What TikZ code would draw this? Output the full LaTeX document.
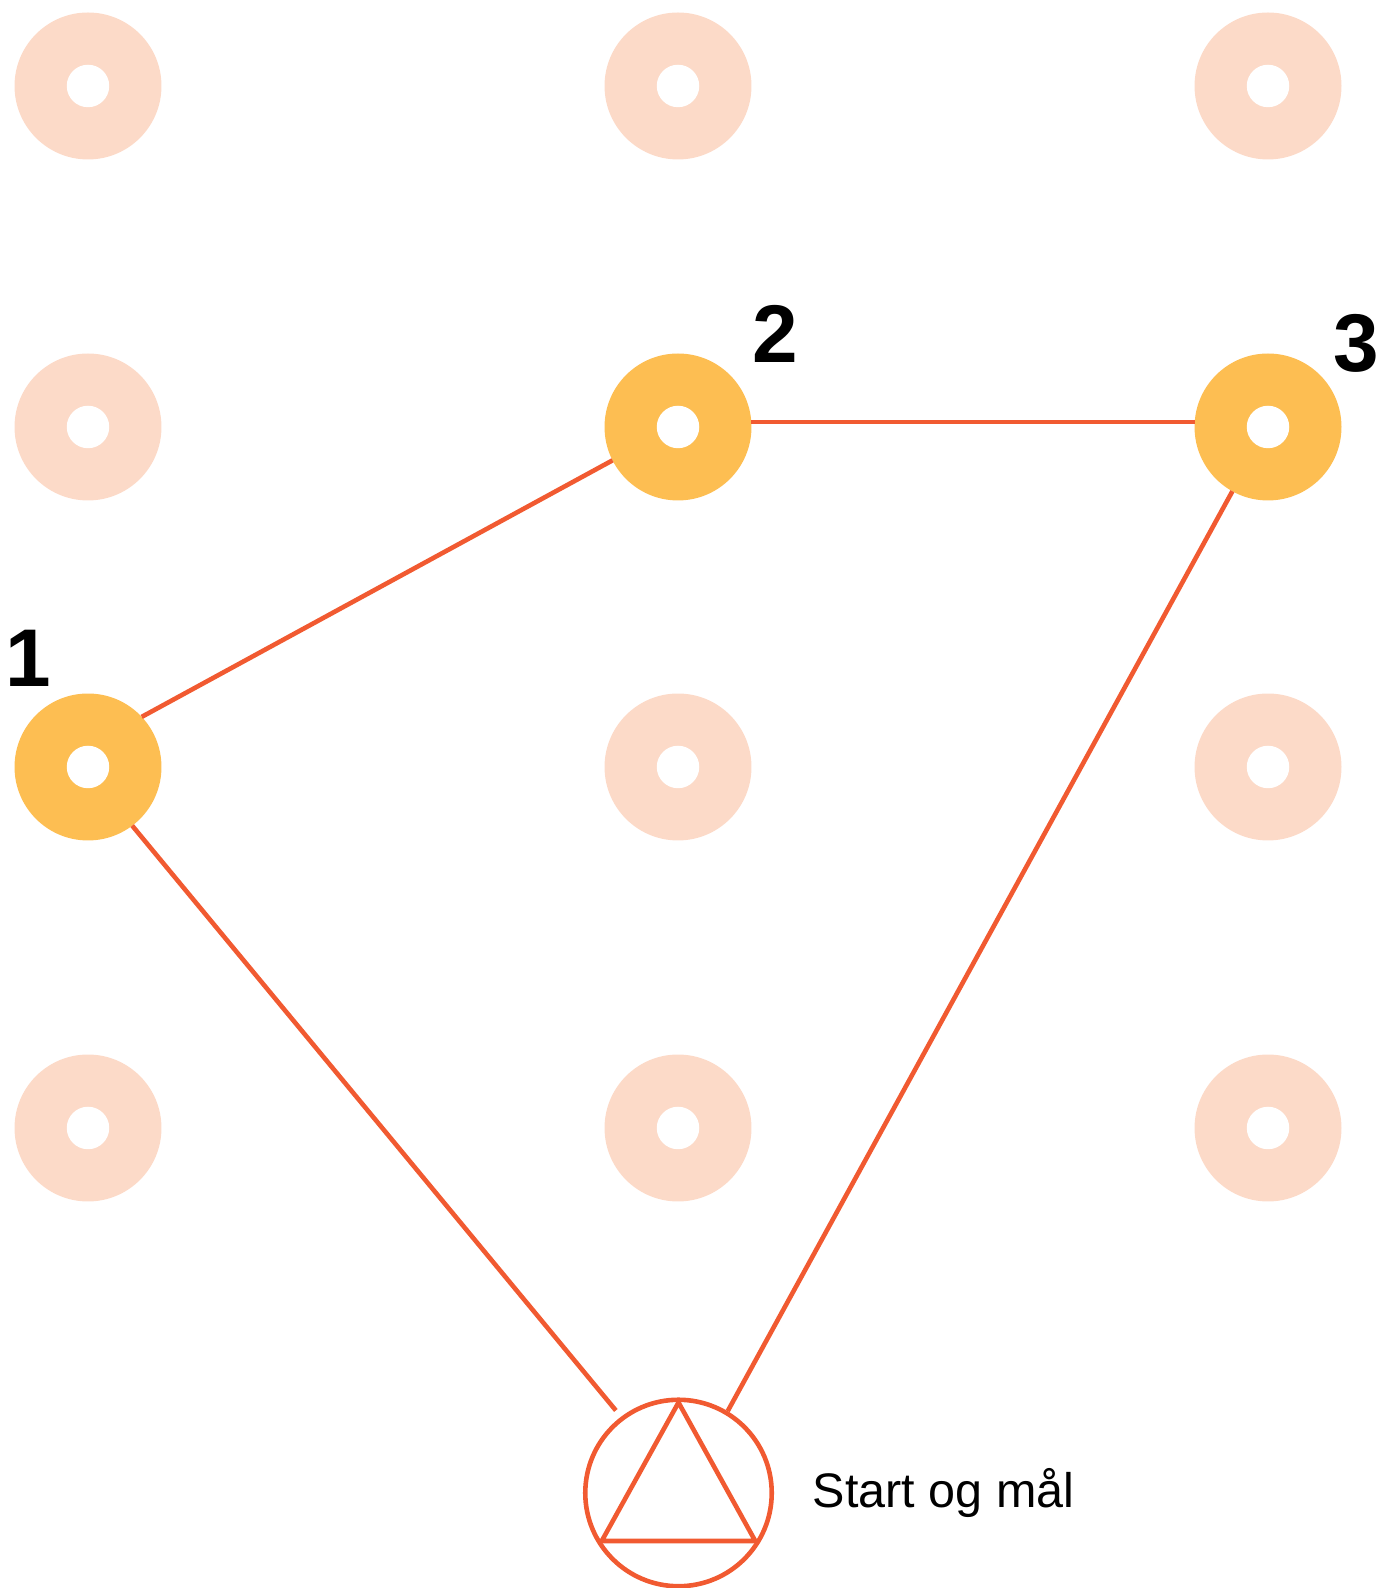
\documentclass[tikz,border=0pt]{standalone}
\usepackage{fontspec}
\setmainfont{Liberation Sans}
\usetikzlibrary{positioning, calc}

\definecolor{peach}{HTML}{FCDAC8}
\definecolor{gold}{HTML}{FDBE52}
\definecolor{route}{HTML}{F15A31}

\begin{document}
\begin{tikzpicture}[x=0.02cm, y=0.02cm, line width=0.092cm,
  ring/.style={circle, fill=#1, minimum size=2.94cm, inner sep=0pt, outer sep=0pt},
  hole/.style={circle, fill=white, minimum size=0.85cm, inner sep=0pt},
  numlbl/.style={anchor=south, inner sep=0pt, font=\fontsize{46.6}{46.6}\selectfont\bfseries},
  leg/.style={route, line cap=butt}]

\useasboundingbox (0,0) rectangle (1376,1588);

% Unused posts
\foreach \x/\y in {88/1502, 678/1502, 1268/1502,
                   88/1161,
                   678/821, 1268/821,
                   88/460, 678/460, 1268/460}
  \node[ring=peach] at (\x,\y) {};

% Posts on the route
\node[ring=gold] (n1) at (88,821) {};
\node[ring=gold] (n2) at (678,1161) {};
\node[ring=gold] (n3) at (1268,1161) {};

% Holes
\foreach \x/\y in {88/1502, 678/1502, 1268/1502,
                   88/1161, 678/1161, 1268/1161,
                   88/821, 678/821, 1268/821,
                   88/460, 678/460, 1268/460}
  \node[hole] at (\x,\y) {};

% Start and finish
\node[circle, draw=route, minimum size=3.73cm, inner sep=0pt] (start) at (678.5,95) {};
\draw[route, line join=miter] ($(start.center)+(90:90.5)$) -- ($(start.center)+(212:90.5)$)
  -- ($(start.center)+(328:90.5)$) -- cycle;
\node[right=0.73cm of start, inner sep=0pt, font=\fontsize{27.6}{27.6}\selectfont] (goal) {Start og mål};

% Route
\draw[leg] (n1.43) -- (n2.207);
\draw[leg] (n2.4) -- (n3.176);
\draw[leg] (n3.241.6) -- (start.59);
\draw[leg, shorten >=0.162cm] (n1.-53) -- (start.127);

% Post numbers
\node[numlbl] (t1) at ([shift={(-60,78)}]n1.center) {1};
\node[numlbl] (t2) at ([shift={(97,62)}]n2.center) {2};
\node[numlbl] (t3) at ([shift={(88,52)}]n3.center) {3};

\end{tikzpicture}
\end{document}
